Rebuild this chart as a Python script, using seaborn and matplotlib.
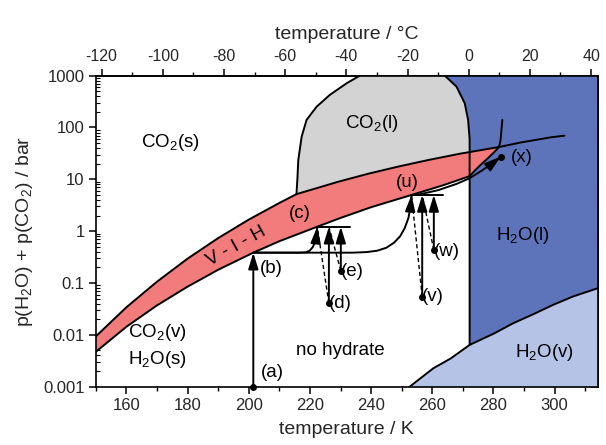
import numpy as np
import pandas as pd
import matplotlib
matplotlib.use("Agg")
import matplotlib.pyplot as plt
import seaborn as sns
from matplotlib.ticker import MultipleLocator, LogLocator, NullFormatter

# --- phase boundaries (temperature in K, pressure in bar) ---
# CO2 sublimation curve (upper edge of hydrate band below the CO2 triple point)
sub_T = [150, 160, 170, 180, 190, 200, 210, 215.6]
sub_p = [0.0093, 0.034, 0.106, 0.295, 0.735, 1.67, 3.5, 5.18]
# CO2 vaporisation curve up to the critical point
vap_T = [215.6, 229, 239, 249, 259, 269, 281.8, 289, 299, 303.2]
vap_p = [5.18, 8.9, 12.8, 17.7, 23.8, 31.2, 42.0, 51.5, 65.0, 69.5]
# hydrate dissociation (ice-hydrate-vapour, then liquid water-hydrate-vapour)
hyd_T = [150, 160, 170, 180, 190, 201.5, 210, 222.4, 230, 240, 253.2, 263, 272.2,
         274, 276, 278, 280, 281.8]
hyd_p = [0.0047, 0.0143, 0.037, 0.085, 0.18, 0.385, 0.64, 1.22, 1.8, 2.9, 5.0, 7.5, 11.5,
         15.0, 19.5, 25.0, 32.5, 42.0]
# liquid water - hydrate - liquid CO2 line above the upper quadruple point
q2_T = [281.8, 282.3, 282.6, 282.9]
q2_p = [42.0, 57.0, 90.0, 140.0]
# liquid CO2 field, left and right boundaries
liqL_T = [215.6, 215.9, 216.2, 217.3, 218.9, 222.2, 226.5, 232.0, 236.3]
liqL_p = [5.18, 10.0, 23.6, 66.5, 140, 252, 425, 713, 1000]
liqR_T = [264.1, 267.9, 270.6, 271.7, 272.2, 272.2]
liqR_p = [1000, 614, 293, 140, 60, 33.7]
# water vapour pressure (ice below the melting point, liquid above)
h2o_T = [252.6, 260.3, 266, 272.2, 280, 286.4, 293, 299.4, 306, 314]
h2o_p = [0.001, 0.00226, 0.0035, 0.0064, 0.0105, 0.0167, 0.025, 0.0377, 0.055, 0.079]

# --- experimental pathways ---
a_T, a_p = 201.5, 0.001
b_T, b_p = 201.5, 0.385
c_T, c_p = 222.4, 1.22
u_T, u_p = 253.2, 5.0
path_bc_T = [201.5, 216.5, 218.6, 219.9, 220.9, 221.6, 222.1, 222.4]
path_bc_p = [0.385, 0.385, 0.39, 0.42, 0.49, 0.6, 0.8, 1.22]
path_bu_T = [201.5, 234.0, 238.5, 242.0, 245.0, 247.5, 249.5, 251.0, 252.2, 252.9, 253.2]
path_bu_p = [0.385, 0.385, 0.395, 0.42, 0.48, 0.6, 0.8, 1.15, 1.8, 3.0, 5.0]
c_line_T = [222.4, 233.1]
u_line_T = [253.2, 263.5]
dots_T = [226.2, 230.1, 256.7, 260.5]
dots_p = [0.0406, 0.173, 0.0545, 0.434]
dots_target_T = [222.4, 226.2, 253.2, 256.7]
dots_top_p = [1.22, 1.22, 5.0, 5.0]
path_x_T = [255.0, 262, 268, 272.2, 276, 279.5, 282.4]
path_x_p = [5.0, 6.2, 8.2, 10.5, 14.5, 20.0, 27.4]

sns.set_theme(style="ticks")
plt.rcParams["font.family"] = ["Liberation Sans", "DejaVu Sans"]
plt.rcParams["mathtext.fontset"] = "custom"
plt.rcParams["mathtext.rm"] = "Liberation Sans"
plt.rcParams["mathtext.it"] = "Liberation Sans:italic"
plt.rcParams["axes.unicode_minus"] = False
plt.rcParams["axes.edgecolor"] = "black"
plt.rcParams["axes.linewidth"] = 1.2

fig = plt.figure(figsize=(6.06, 4.45), dpi=100)
ax = fig.add_axes([0.158, 0.131, 0.828, 0.699])
ax.set_yscale("log")
XMIN, XMAX = 150, 314
ax.set_xlim(XMIN, XMAX)
ax.set_ylim(1e-3, 1e3)

RED = "#f27b7b"
GRAY = "#d3d3d3"
BLUE = "#5d74bb"
LBLUE = "#b4c3e6"
LW = 1.4

# water vapour field
ax.fill_between(h2o_T, h2o_p, 1e-3, color=LBLUE, lw=0, zorder=1)

# liquid water field
blue_T = liqR_T + [h for h in h2o_T if h >= 272.2] + [XMAX + 1, XMAX + 1]
blue_p = liqR_p + [p for h, p in zip(h2o_T, h2o_p) if h >= 272.2] + [h2o_p[-1], 1000]
ax.fill(blue_T, blue_p, color=BLUE, lw=0, zorder=1)

# liquid CO2 field
vap_in = [(t, p) for t, p in zip(vap_T, vap_p) if t <= 272.2] + [(272.2, 33.7)]
gray_T = liqL_T + liqR_T + [t for t, _ in vap_in[::-1]]
gray_p = liqL_p + liqR_p + [p for _, p in vap_in[::-1]]
ax.fill(gray_T, gray_p, color=GRAY, lw=0, zorder=2)

# hydrate stability band (V - I - H)
upper = [(t, p) for t, p in zip(sub_T + vap_T[1:], sub_p + vap_p[1:]) if t <= 281.8]
band_T = [t for t, _ in upper] + hyd_T[::-1]
band_p = [p for _, p in upper] + hyd_p[::-1]
ax.fill(band_T, band_p, color=RED, lw=0, zorder=3)

# boundary lines
curves = {
    "co2": (sub_T + vap_T[1:], sub_p + vap_p[1:]),
    "hyd": (hyd_T, hyd_p),
    "q2": (q2_T, q2_p),
    "liqL": (liqL_T, liqL_p),
    "liqR": (liqR_T + [272.2], liqR_p + [0.0064]),
    "h2o": (h2o_T, h2o_p),
}
for name, (tt, pp) in curves.items():
    df = pd.DataFrame({"T": tt, "p": pp})
    sns.lineplot(data=df, x="T", y="p", ax=ax, color="black", lw=LW,
                 sort=False, estimator=None, zorder=4)

# pathways
arrow_kw = dict(arrowstyle="-|>,head_length=0.65,head_width=0.2", color="black",
                lw=LW, mutation_scale=15, shrinkA=0, shrinkB=0)


def path_with_head(tt, pp):
    ax.plot(tt, pp, color="black", lw=LW, zorder=6)
    ax.annotate("", xy=(tt[-1], pp[-1]), xytext=(tt[-2], pp[-2]),
                arrowprops=arrow_kw, zorder=7)


ax.plot([a_T], [a_p], "o", color="black", ms=4, zorder=7, clip_on=False)
ax.annotate("", xy=(b_T, b_p), xytext=(a_T, a_p), arrowprops=arrow_kw, zorder=7)
path_with_head(path_bc_T, path_bc_p)
path_with_head(path_bu_T, path_bu_p)
ax.plot(c_line_T, [c_p, c_p], color="black", lw=LW, zorder=6)
ax.plot(u_line_T, [u_p, u_p], color="black", lw=LW, zorder=6)
for t, p, tt, ptop in zip(dots_T, dots_p, dots_target_T, dots_top_p):
    ax.plot([t, tt], [p, ptop], color="black", lw=1.0, ls=(0, (3, 2)), zorder=5)
    ax.plot([t], [p], "o", color="black", ms=4, zorder=7)
    ax.annotate("", xy=(t, ptop), xytext=(t, p), arrowprops=arrow_kw, zorder=7)
path_with_head(path_x_T, path_x_p)
ax.plot([path_x_T[-1]], [path_x_p[-1]], "o", color="black", ms=4, zorder=7)

# region and point labels
FS = 13.5
txt = dict(color="black", ha="center", va="center", fontsize=FS, zorder=8)
ax.text(174.3, 52, r"CO$_\mathregular{2}$(s)", **txt)
ax.text(240.2, 122, r"CO$_\mathregular{2}$(l)", **txt)
ax.text(289.5, 0.81, r"H$_\mathregular{2}$O(l)", **txt)
ax.text(296.7, 0.0045, r"H$_\mathregular{2}$O(v)", **txt)
ax.text(170.3, 0.0113, r"CO$_\mathregular{2}$(v)", **txt)
ax.text(170.3, 0.0033, r"H$_\mathregular{2}$O(s)", **txt)
ax.text(229.8, 0.0051, "no hydrate", **txt)
ax.text(196.0, 0.50, "V - I - H", rotation=29, rotation_mode="anchor", **txt)
for lab, t, p in [("(a)", 207.6, 0.0019), ("(b)", 207.3, 0.194), ("(c)", 216.7, 2.23),
                  ("(d)", 229.8, 0.041), ("(e)", 233.7, 0.17), ("(u)", 251.7, 8.5),
                  ("(v)", 260.2, 0.056), ("(w)", 264.7, 0.41), ("(x)", 289.2, 25.8)]:
    ax.text(t, p, lab, **txt)

# axes, ticks and labels
ax.xaxis.set_minor_locator(MultipleLocator(10))
ax.set_xticks([160, 180, 200, 220, 240, 260, 280, 300])
ax.set_yticks([1e-3, 1e-2, 1e-1, 1, 10, 100, 1000])
ax.set_yticklabels(["0.001", "0.01", "0.1", "1", "10", "100", "1000"])
ax.yaxis.set_minor_locator(LogLocator(base=10, subs=np.arange(2, 10)))
ax.yaxis.set_minor_formatter(NullFormatter())
ax.tick_params(axis="x", which="major", direction="out", length=5, width=1.1,
               labelsize=12, pad=3, color="black")
ax.tick_params(axis="x", which="minor", direction="out", length=3, width=1.0, color="black")
ax.tick_params(axis="y", which="major", direction="out", length=5, width=1.1,
               labelsize=12, pad=3, color="black")
ax.tick_params(axis="y", which="minor", direction="in", length=3, width=0.8, color="black")
ax.set_xlabel("temperature / K", fontsize=14, labelpad=6)
ax.set_ylabel(r"p(H$_\mathregular{2}$O) + p(CO$_\mathregular{2}$) / bar", fontsize=14, labelpad=6)

secx = ax.secondary_xaxis("top", functions=(lambda T: T - 271.9, lambda C: C + 271.9))
secx.xaxis.set_major_locator(MultipleLocator(20))
secx.xaxis.set_minor_locator(MultipleLocator(10))
secx.tick_params(which="major", direction="out", length=5, width=1.1, labelsize=11.5,
                 color="black")
secx.tick_params(which="minor", direction="out", length=3, width=1.0, color="black")
secx.set_xlabel("temperature / °C", fontsize=14, labelpad=7)

secy = ax.secondary_yaxis("right")
secy.yaxis.set_minor_locator(LogLocator(base=10, subs=np.arange(2, 10)))
secy.tick_params(which="major", direction="in", length=5, width=1.1, labelright=False, color="black")
secy.tick_params(which="minor", direction="in", length=3, width=0.8, color="black")
secy.yaxis.set_minor_formatter(NullFormatter())

for s in ax.spines.values():
    s.set_color("black")
    s.set_linewidth(1.2)
    s.set_zorder(10)

fig.savefig("out.png", dpi=100)
